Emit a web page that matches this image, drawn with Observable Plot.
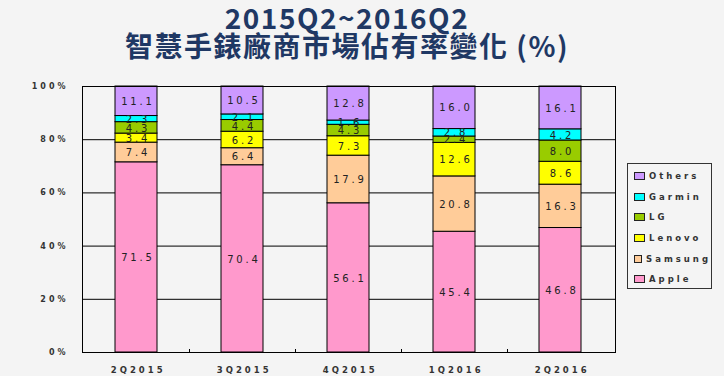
<!DOCTYPE html>
<html>
<head>
<meta charset="utf-8">
<script src="https://cdn.jsdelivr.net/npm/d3@7"></script>
<script src="https://cdn.jsdelivr.net/npm/@observablehq/plot@0.6"></script>
<style>
  html, body { margin: 0; padding: 0; background: #f4f4f4; }
  #wrap { position: relative; width: 724px; height: 376px; overflow: hidden; }
  .tl { position: absolute; left: 0; width: 694px; text-align: center; white-space: nowrap;
    font-family: "Noto Sans CJK TC", "Open Sans", sans-serif; font-weight: 700;
    color: #1f3864; font-size: 28px; line-height: 28px; letter-spacing: 1.5px; }
  #t1 { top: 3px; }
  #t2 { top: 31px; }
  #chart { position: absolute; left: 0; top: 80px; }
  #legend { position: absolute; left: 627px; top: 163px; width: 85px; height: 126px;
    border: 1px solid #333; box-sizing: border-box; padding-top: 2px; }
  .item { display: flex; align-items: center; height: 20.6px; padding-left: 6px;
    font-family: "DejaVu Sans", sans-serif; font-weight: bold; font-size: 8.5px;
    letter-spacing: 3px; color: #333; }
  .sw { width: 11px; height: 8px; border: 1px solid #222; margin-right: 4px; box-sizing: border-box; }
</style>
</head>
<body>
<div id="wrap">
  <div class="tl" id="t1">2015Q2~2016Q2</div>
  <div class="tl" id="t2">智慧手錶廠商市場佔有率變化 (%)</div>
  <div id="chart"></div>
  <div id="legend"></div>
</div>
<script>
const quarters = ["2Q2015", "3Q2015", "4Q2015", "1Q2016", "2Q2016"];
const brands = ["Apple", "Samsung", "Lenovo", "LG", "Garmin", "Others"];
const colors = ["#ff99cc", "#ffcc99", "#ffff00", "#99cc00", "#00ffff", "#cc99ff"];
const apple   = [71.5, 70.4, 56.1, 45.4, 46.8];
const samsung = [7.4, 6.4, 17.9, 20.8, 16.3];
const lenovo  = [3.4, 6.2, 7.3, 12.6, 8.6];
const lg      = [4.3, 4.4, 4.3, 2.4, 8.0];
const garmin  = [2.3, 2.1, 1.6, 2.8, 4.2];
const others  = [11.1, 10.5, 12.8, 16.0, 16.1];
const yTicks = [0, 20, 40, 60, 80, 100];

const seriesValues = [apple, samsung, lenovo, lg, garmin, others];
const data = [];
brands.forEach((b, j) => quarters.forEach((q, i) => data.push({quarter: q, brand: b, value: seriesValues[j][i]})));

function boundaryTicks(index, scales, values, dim) {
  const x = scales.x;
  const step = x(quarters[1]) - x(quarters[0]);
  const pad = step - x.bandwidth();
  const g = d3.create("svg:g");
  const yb = dim.height - dim.marginBottom;
  quarters.slice(1).forEach(q => {
    const px = Math.round(x(q) - pad / 2) + 0.5;
    g.append("line").attr("x1", px).attr("x2", px).attr("y1", yb).attr("y2", yb - 3).attr("stroke", "#000");
  });
  return g.node();
}

const chart = Plot.plot({
  width: 724,
  height: 296,
  marginTop: 6,
  marginBottom: 24,
  marginLeft: 82,
  marginRight: 109,
  style: {background: "transparent", fontFamily: "DejaVu Sans, sans-serif"},
  x: {domain: quarters, paddingInner: 0.6, paddingOuter: 0.3, label: null},
  y: {domain: [0, 100], label: null},
  color: {domain: brands, range: colors},
  marks: [
    Plot.ruleY(yTicks, {stroke: "#000", strokeWidth: 1}),
    Plot.barY(data, {x: "quarter", y: "value", fill: "brand", stroke: "#000", strokeWidth: 1}),
    Plot.text(data, Plot.stackY({x: "quarter", y: "value", text: d => d.value.toFixed(1),
      fill: "#222", fontSize: 10, dx: 1.4, dy: 0.5})),
    Plot.frame({stroke: "#000"}),
    Plot.axisY({ticks: yTicks, tickSize: 0, tickPadding: 14, tickFormat: d => d + "%",
      fontWeight: "bold", fontSize: 8, fill: "#333"}),
    Plot.axisX({tickSize: 0, tickPadding: 14, fontWeight: "bold", fontSize: 8.5, fill: "#333", dx: 1.7}),
    boundaryTicks
  ]
});
document.getElementById("chart").appendChild(chart);

chart.querySelectorAll("text").forEach(t => t.style.letterSpacing = "3px");
chart.querySelectorAll("[aria-label='text'] text").forEach(t => t.style.letterSpacing = "2.8px");

const legend = document.getElementById("legend");
brands.slice().reverse().forEach(b => {
  const i = brands.indexOf(b);
  const it = document.createElement("div");
  it.className = "item";
  const sw = document.createElement("div");
  sw.className = "sw";
  sw.style.background = colors[i];
  it.appendChild(sw);
  it.appendChild(document.createTextNode(b));
  legend.appendChild(it);
});
</script>
</body>
</html>
